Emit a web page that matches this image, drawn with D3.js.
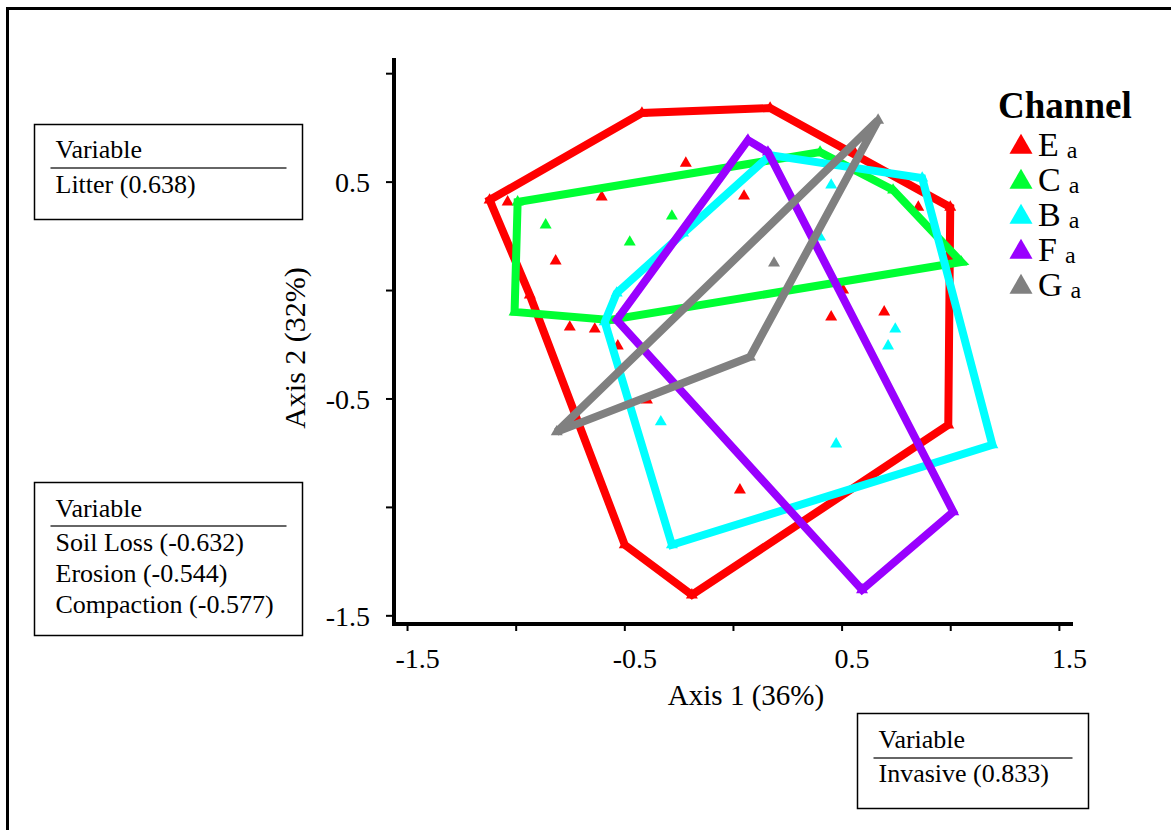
<!DOCTYPE html>
<html>
<head>
<meta charset="utf-8">
<script src="https://cdn.jsdelivr.net/npm/d3@7"></script>
<style>
  html, body { margin: 0; padding: 0; background: #fff; }
  svg text { font-family: "Liberation Serif", "Times New Roman", serif; fill: #000; }
</style>
</head>
<body>
<svg id="chart" width="1171" height="830"></svg>
<script>
// ---- data ----
const groups = ["E", "C", "B", "F", "G"];
const groupColors = ["#ff0000", "#00ff33", "#00ffff", "#9900ff", "#808080"];
const groupSuffix = ["a", "a", "a", "a", "a"];

// hull vertices (axis1, axis2)
const hullE = [[-1.120, 0.415], [-0.419, 0.816], [0.171, 0.839], [1.000, 0.382], [0.991, -0.622], [-0.189, -1.406], [-0.498, -1.175], [-0.935, -0.023]];
const hullC = [[-0.991, 0.406], [0.401, 0.636], [0.737, 0.461], [1.051, 0.129], [-0.567, -0.138], [-1.005, -0.101]];
const hullB = [[0.171, 0.622], [0.871, 0.516], [1.194, -0.714], [-0.281, -1.175], [-0.590, -0.147], [-0.535, -0.014]];
const hullF = [[0.069, 0.691], [0.161, 0.636], [1.014, -1.023], [0.594, -1.382], [-0.535, -0.138]];
const hullG = [[0.668, 0.783], [0.078, -0.309], [-0.811, -0.654]];

// interior sample points
const ptsE = [[-1.037, 0.406], [-0.604, 0.429], [-0.217, 0.585], [-0.816, 0.134], [-0.751, -0.171], [-0.636, -0.180], [-0.530, -0.258], [0.051, 0.433], [0.553, 0.645], [0.853, 0.382], [0.507, 0.0], [0.452, -0.124], [0.696, -0.101], [-0.396, -0.507], [0.032, -0.922]];
const ptsC = [[-0.862, 0.300], [-0.475, 0.221], [-0.281, 0.341]];
const ptsB = [[0.452, 0.484], [0.401, 0.244], [0.747, -0.180], [0.714, -0.258], [-0.332, -0.608], [0.475, -0.710], [-0.230, 0.263]];
const ptsF = [];
const ptsG = [[0.189, 0.124]];

const hulls = [hullE, hullC, hullB, hullF, hullG];
const points = [ptsE, ptsC, ptsB, ptsF, ptsG];

const xTicks = [-1.5, -1.0, -0.5, 0, 0.5, 1.0, 1.5];
const xTickLabels = ["-1.5", "", "-0.5", "", "0.5", "", "1.5"];
const yTicks = [-1.5, -1.0, -0.5, 0, 0.5, 1.0];
const yTickLabels = ["-1.5", "", "-0.5", "", "0.5", ""];

const xTitle = "Axis 1 (36%)";
const yTitle = "Axis 2 (32%)";
const legendTitle = "Channel";

const boxLitter = ["Litter (0.638)"];
const boxSoil = ["Soil Loss (-0.632)", "Erosion (-0.544)", "Compaction (-0.577)"];
const boxInvasive = ["Invasive (0.833)"];

// ---- drawing ----
const svg = d3.select("#chart");
const serif = '"Liberation Serif", "Times New Roman", serif';

// outer frame
svg.append("rect").attr("x", 7.5).attr("y", 8.5).attr("width", 1200).attr("height", 900)
  .attr("fill", "none").attr("stroke", "#000").attr("stroke-width", 3);

const x = d3.scaleLinear().domain([-1.56, 1.565]).range([394, 1073]);
const y = d3.scaleLinear().domain([-1.54, 1.07]).range([624, 58]);

// axes
const xAxis = d3.axisBottom(x).tickValues(xTicks).tickSize(7).tickSizeOuter(0)
  .tickFormat((d, i) => xTickLabels[i]);
const gx = svg.append("g").attr("transform", "translate(0,624)").call(xAxis);
gx.select(".domain").attr("stroke-width", 4).attr("d", "M392,0H1073");
gx.selectAll(".tick line").attr("stroke-width", 2);
gx.selectAll(".tick text").attr("font-size", 28).attr("dy", 0).attr("y", 44).attr("dx", 10)
  .style("font-family", serif);

const yAxis = d3.axisLeft(y).tickValues(yTicks).tickSize(8).tickSizeOuter(0)
  .tickFormat((d, i) => yTickLabels[i]);
const gy = svg.append("g").attr("transform", "translate(394,0)").call(yAxis);
gy.select(".domain").attr("stroke-width", 4).attr("d", "M0,58V626");
gy.selectAll(".tick line").attr("stroke-width", 2);
gy.selectAll(".tick text").attr("font-size", 28).attr("x", -24).attr("dy", "0.35em")
  .style("font-family", serif);

// axis titles
svg.append("text").attr("x", 746).attr("y", 705).attr("text-anchor", "middle")
  .attr("font-size", 29).text(xTitle);
svg.append("text").attr("transform", "translate(305,348) rotate(-90)").attr("text-anchor", "middle")
  .attr("font-size", 30).text(yTitle);

const tri = d3.symbol().type(d3.symbolTriangle);

// points (under the hulls)
groups.forEach((g, gi) => {
  const all = points[gi].concat(hulls[gi]);
  svg.append("g").selectAll("path").data(all).join("path")
    .attr("d", tri.size(62)())
    .attr("transform", d => `translate(${x(d[0])},${y(d[1])})`)
    .attr("fill", groupColors[gi]);
});

// hulls
const line = d3.line().x(d => x(d[0])).y(d => y(d[1])).curve(d3.curveLinearClosed);
groups.forEach((g, gi) => {
  svg.append("path").datum(hulls[gi])
    .attr("d", line)
    .attr("fill", "none")
    .attr("stroke", groupColors[gi])
    .attr("stroke-width", 8)
    .attr("stroke-linejoin", "miter")
    .attr("stroke-miterlimit", 3);
});

// legend
const lg = svg.append("g");
lg.append("text").attr("x", 998).attr("y", 118).attr("font-size", 37).attr("font-weight", "bold").text(legendTitle);
groups.forEach((g, gi) => {
  const by = 156 + gi * 35;
  lg.append("path").attr("d", d3.symbol().type(d3.symbolTriangle).size(230)())
    .attr("transform", `translate(1021,${by - 9})`).attr("fill", groupColors[gi]);
  const t = lg.append("text").attr("x", 1038).attr("y", by).attr("font-size", 34);
  t.append("tspan").text(g);
  t.append("tspan").attr("font-size", 24).attr("dx", 8).attr("dy", 2).text(groupSuffix[gi]);
});

// variable boxes
function varBox(bx, by, bw, bh, lines, headBase, sepY, firstBase, step) {
  const b = svg.append("g");
  b.append("rect").attr("x", bx).attr("y", by).attr("width", bw).attr("height", bh)
    .attr("fill", "#fff").attr("stroke", "#000").attr("stroke-width", 1.5);
  b.append("text").attr("x", bx + 21).attr("y", headBase).attr("font-size", 26).text("Variable");
  b.append("line").attr("x1", bx + 16).attr("x2", bx + bw - 16).attr("y1", sepY).attr("y2", sepY)
    .attr("stroke", "#666").attr("stroke-width", 2);
  lines.forEach((l, i) => {
    b.append("text").attr("x", bx + 21).attr("y", firstBase + i * step).attr("font-size", 26).text(l);
  });
}
varBox(34.5, 124.5, 268, 95, boxLitter, 158, 168, 193, 31);
varBox(34.5, 482.5, 268, 153, boxSoil, 517, 526, 551, 31);
varBox(857.5, 713.5, 231, 95, boxInvasive, 748, 758, 782, 31);
</script>
</body>
</html>
